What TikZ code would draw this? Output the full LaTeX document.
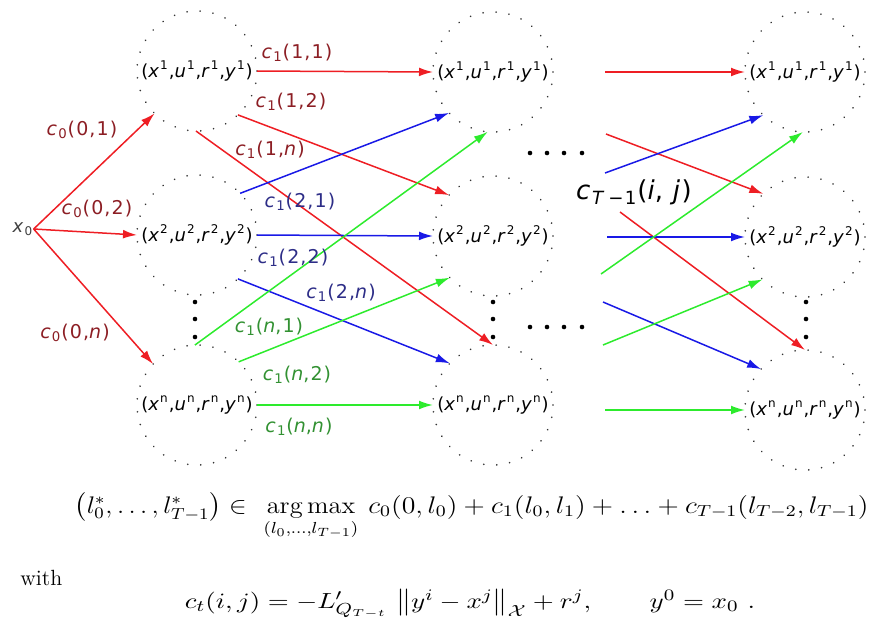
\documentclass[tikz,border=0pt]{standalone}
\usepackage{amsmath}
\usepackage{graphicx}
\usepackage{fontspec}
\newfontfamily\labfont[LetterSpace=6]{DejaVu Sans}
\usetikzlibrary{arrows.meta}
\definecolor{ar}{RGB}{238,30,36}
\definecolor{ab}{RGB}{25,25,230}
\definecolor{ag}{RGB}{45,235,45}
\definecolor{lr}{RGB}{140,30,36}
\definecolor{lb}{RGB}{45,45,135}
\definecolor{lg}{RGB}{50,145,50}
\newcommand{\stlab}[1]{(\textit{x}\textsuperscript{#1},\textit{u}\textsuperscript{#1},\textit{r}\textsuperscript{#1},\textit{y}\textsuperscript{#1})}
\newcommand{\clab}[2]{\textit{c}\textsubscript{#1}(#2)}
\begin{document}
\begin{tikzpicture}[x=0.5pt,y=-0.5pt,
  state/.style={circle,minimum size=60pt,inner sep=0pt,outer sep=0pt,draw=black!80,line width=0.9pt,dash pattern=on 0.01pt off 6.5pt,line cap=round},
  stxt/.style={inner sep=0pt,font=\labfont\fontsize{9}{10}\selectfont},
  lab/.style={inner sep=0pt,font=\labfont\fontsize{9.5}{11}\selectfont},
  arr/.style={line width=0.75pt,-{Latex[length=7pt,width=4.4pt]}},
  bdot/.style={fill=black,circle,inner sep=0pt,minimum size=2.3pt},
  fml/.style={inner sep=0pt,font=\fontsize{12}{14}\selectfont}]
\useasboundingbox (0,0) rectangle (871,633);
% states
\foreach \n/\x/\y in {a1/197/71,a2/197/235,an/197/405,b1/493/72,b2/493/236,bn/493/405,c1/805/72,c2/805/237,cn/805/410}{
  \node[state] (\n) at (\x,\y) {};
}
\foreach \n/\k in {a1/1,a2/2,an/n,b1/1,b2/2,bn/n,c1/1,c2/2,cn/n}{
  \node[stxt] (t\n) at (\n) {\stlab{\k}};
}
\node[stxt,font=\labfont\fontsize{9}{10}\selectfont,text=black!75] (x0) at (23,229) {\textit{x}\textsubscript{0}};
% vertical dots
\foreach \x/\c in {195/a,493/b,806/c}{
  \foreach \y/\i in {302/1,319/2,337/3}{
    \node[bdot] (v\c\i) at (\x,\y) {};
  }
}
% horizontal dots
\foreach \x/\i in {530/1,547/2,564/3,582/4}{
  \node[bdot] (hu\i) at (\x,153) {};
  \node[bdot] (hl\i) at (\x,327) {};
}
% c0 arrows
\draw[arr,ar] (x0.east) -- (a1.-135);
\draw[arr,ar] (x0.east) -- (a2.west);
\draw[arr,ar] (x0.east) -- (an.137);
\node[lab,text=lr] (l01) at (82,130) {\clab{0}{0,1}};
\node[lab,text=lr] (l02) at (97,209) {\clab{0}{0,2}};
\node[lab,text=lr] (l0n) at (75,333) {\clab{0}{0,\textit{n}}};
% stage 1 arrows
\draw[arr,ar] (a1.east) -- (b1.west);
\draw[arr,ar] (a1.-47) -- (b2.137);
\draw[arr,ar] (a1.-91) -- (bn.north);
\draw[arr,ab] (a2.44) -- (b1.-137);
\draw[arr,ab] (a2.east) -- (b2.west);
\draw[arr,ab] (a2.-47) -- (bn.136);
\draw[arr,ag] (an.92) -- (b1.-95);
\draw[arr,ag] (an.46) -- (b2.-136);
\draw[arr,ag] (an.east) -- (bn.west);
\node[lab,text=lr] (l11) at (297,53) {\clab{1}{1,1}};
\node[lab,text=lr] (l12) at (291,102) {\clab{1}{1,2}};
\node[lab,text=lr] (l1n) at (270,150) {\clab{1}{1,\textit{n}}};
\node[lab,text=lb] (l21) at (300,202) {\clab{1}{2,1}};
\node[lab,text=lb] (l22) at (293,258) {\clab{1}{2,2}};
\node[lab,text=lb] (l2n) at (341,293) {\clab{1}{2,\textit{n}}};
\node[lab,text=lg] (ln1) at (269,327) {\clab{1}{\textit{n},1}};
\node[lab,text=lg] (ln2) at (297,375) {\clab{1}{\textit{n},2}};
\node[lab,text=lg] (lnn) at (299,427) {\clab{1}{\textit{n},\textit{n}}};
% last stage arrows
\coordinate (s11) at (605,72);
\coordinate (s12) at (606,134);
\coordinate (s1n) at (620,212);
\coordinate (s21) at (605,173);
\coordinate (s22) at (607,237);
\coordinate (s2n) at (603,302);
\coordinate (sn1) at (601,274);
\coordinate (sn2) at (603,345);
\coordinate (snn) at (605,410);
\draw[arr,ar] (s11) -- (c1.west);
\draw[arr,ar] (s12) -- (c2.134);
\draw[arr,ar] (s1n) -- (cn.north);
\draw[arr,ab] (s21) -- (c1.-134);
\draw[arr,ab] (s22) -- (c2.west);
\draw[arr,ab] (s2n) -- (cn.137);
\draw[arr,ag] (sn1) -- (c1.-92);
\draw[arr,ag] (sn2) -- (c2.-135);
\draw[arr,ag] (snn) -- (cn.west);
\node[inner sep=0pt,font=\labfont\fontsize{13}{15}\selectfont] (cT) at (634,192) {\textit{c}\textsubscript{\textit{T}\,−1}(\textit{i}, \textit{j})};
% formulas
\node[fml,anchor=base east] (f1a) at (247,513) {\scalebox{1.1}[1]{$\left(l_0^*,\ldots,l_{T-1}^*\right)\in$}};
\node[fml,anchor=base] (f1b) at (311,513) {\scalebox{1.1}[1]{$\displaystyle\operatorname*{arg\,max}_{(l_0,\ldots,l_{T-1})}$}};
\node[fml,anchor=base west] (f1c) at (368,513) {\resizebox{250pt}{\height}{$c_0(0,l_0)+c_1(l_0,l_1)+\ldots+c_{T-1}(l_{T-2},l_{T-1})$}};
\node[inner sep=0pt,anchor=base west] (w) at (20,585) {\fontsize{11}{13}\selectfont with};
\node[inner sep=0pt,anchor=base] (f2) at (470,608) {\fontsize{11}{13}\selectfont\resizebox{285pt}{\height}{$c_t(i,j)=-L'_{Q_{T-t}}\,\left\|y^i-x^j\right\|_{\mathcal{X}}+r^j,\qquad y^0=x_0\ .$}};
\end{tikzpicture}
\end{document}
